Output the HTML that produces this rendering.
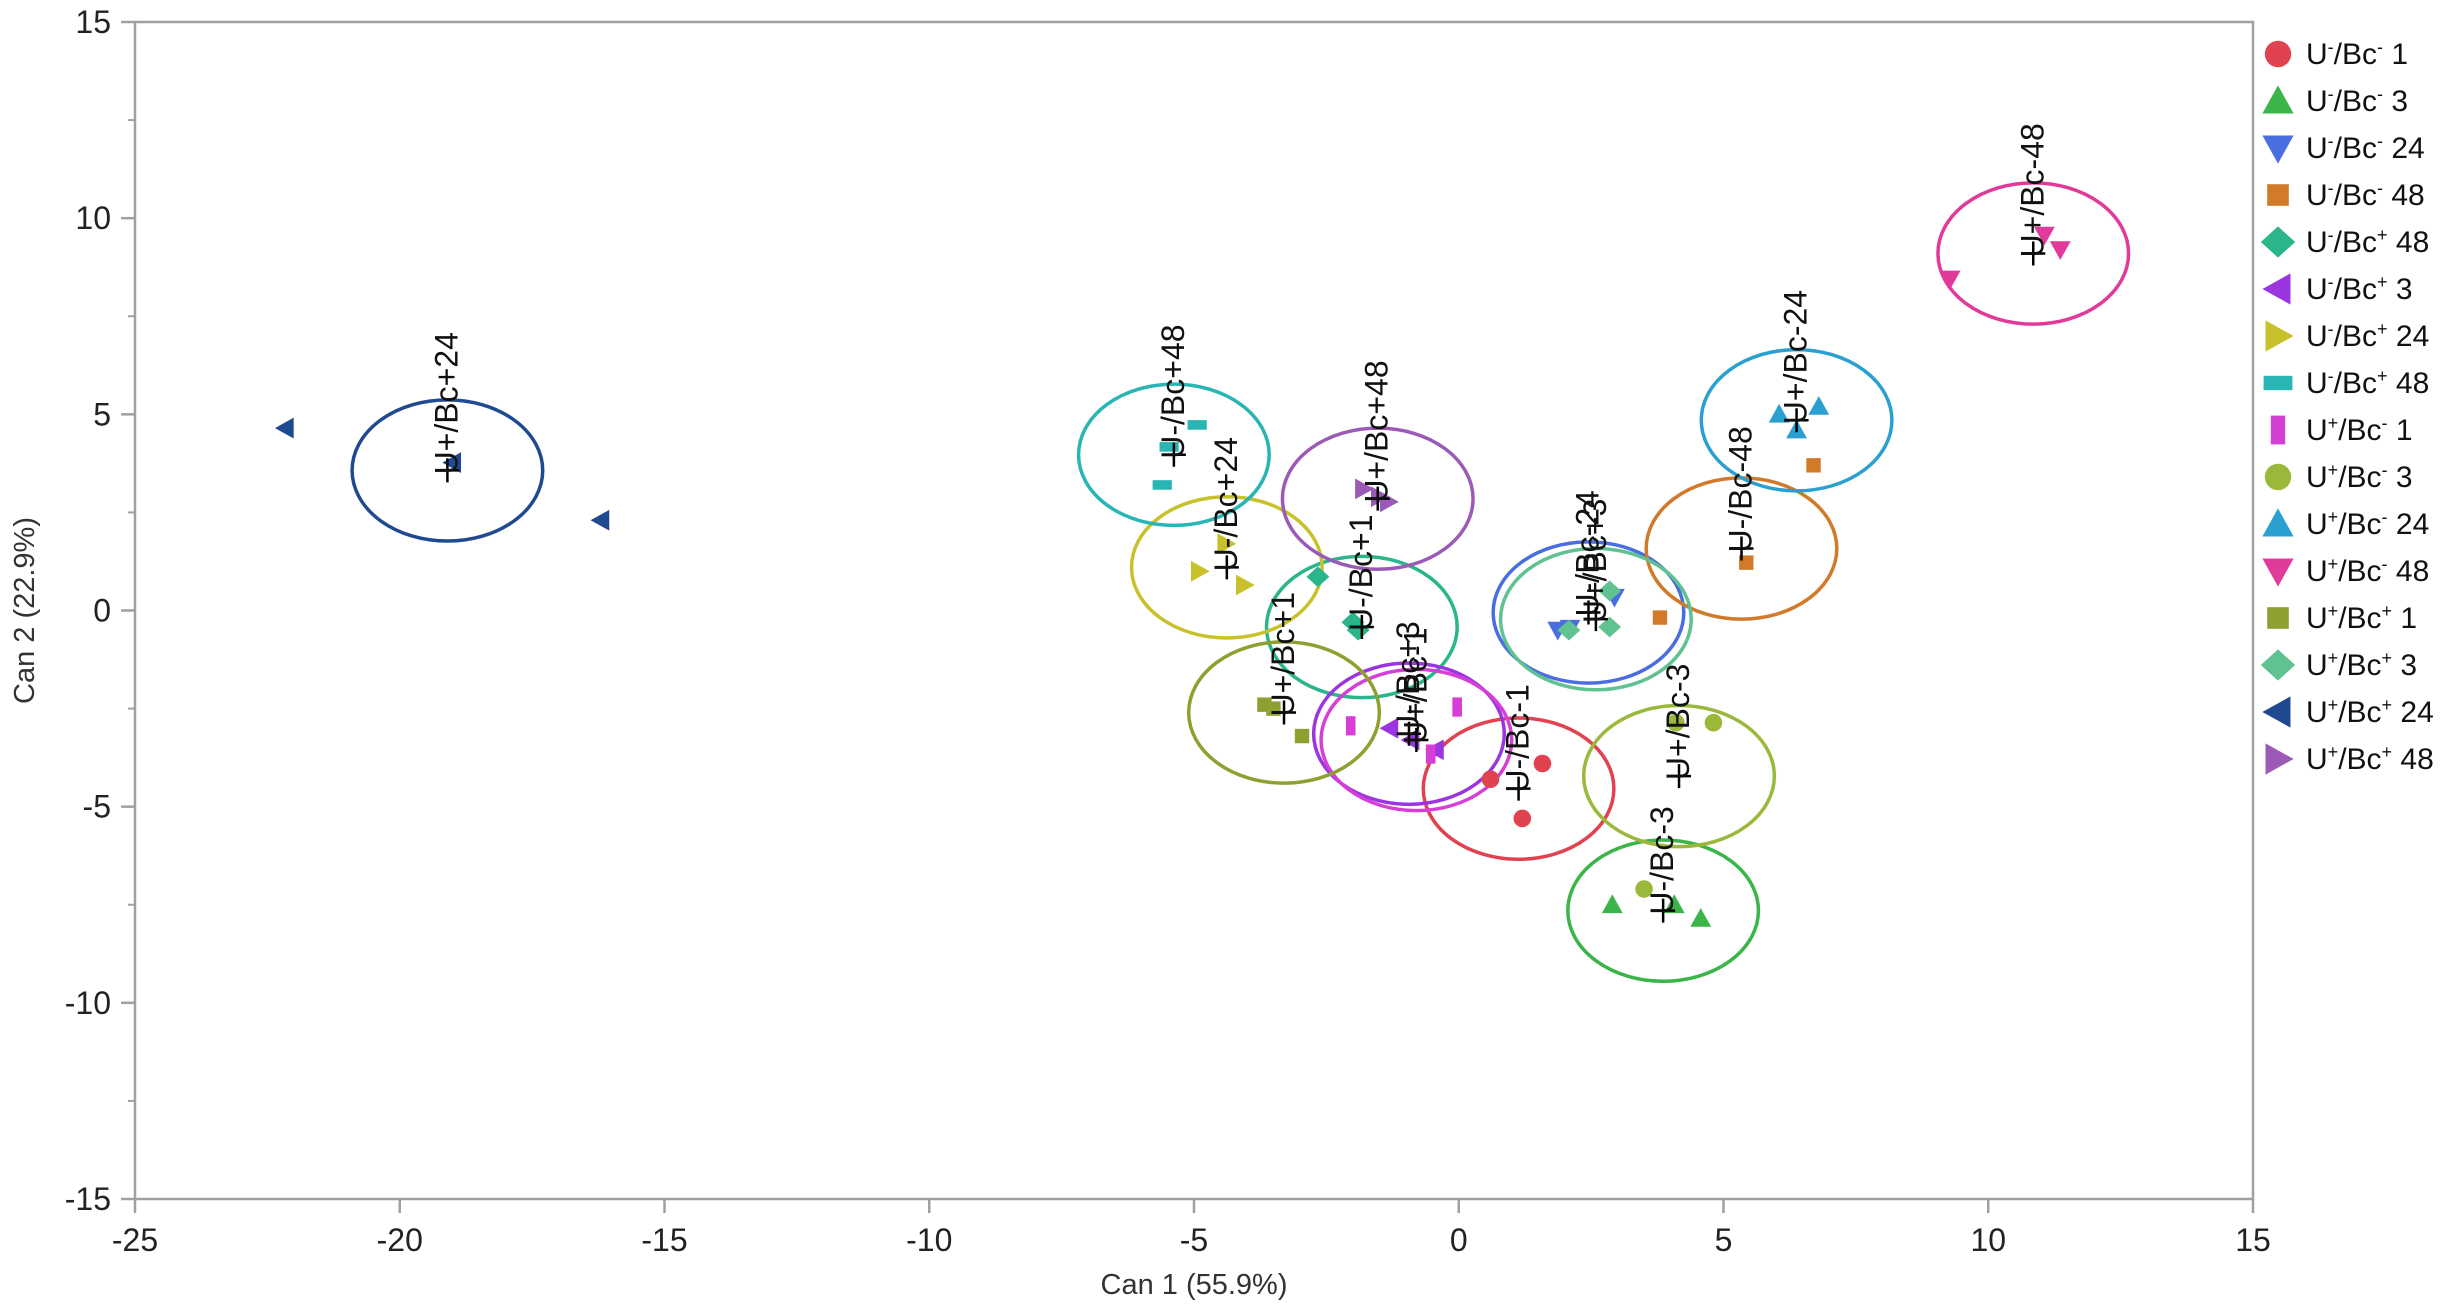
<!DOCTYPE html>
<html><head><meta charset="utf-8"><style>
html,body{margin:0;padding:0;background:#fff;}
svg{display:block;font-family:"Liberation Sans",sans-serif;}
</style></head><body>
<svg id="chart" width="2460" height="1308" viewBox="0 0 2460 1308">
<g id="axes"></g><g id="ellipses"></g><g id="points"></g><g id="labels"></g><g id="legend"></g>
</svg>
<script>
const xTicks=[-25,-20,-15,-10,-5,0,5,10,15];
const yTicks=[-15,-10,-5,0,5,10,15];
const groupNames=["U-/Bc-1","U-/Bc-3","U-/Bc-24","U-/Bc-48","U-/Bc+1","U-/Bc+3","U-/Bc+24","U-/Bc+48","U+/Bc-1","U+/Bc-3","U+/Bc-24","U+/Bc-48","U+/Bc+1","U+/Bc+3","U+/Bc+24","U+/Bc+48"];
const legendLabels=[["U","-","Bc","-"," 1"],["U","-","Bc","-"," 3"],["U","-","Bc","-"," 24"],["U","-","Bc","-"," 48"],["U","-","Bc","+"," 48"],["U","-","Bc","+"," 3"],["U","-","Bc","+"," 24"],["U","-","Bc","+"," 48"],["U","+","Bc","-"," 1"],["U","+","Bc","-"," 3"],["U","+","Bc","-"," 24"],["U","+","Bc","-"," 48"],["U","+","Bc","+"," 1"],["U","+","Bc","+"," 3"],["U","+","Bc","+"," 24"],["U","+","Bc","+"," 48"]];
const colors=["#e0434f","#3bb54a","#4a6ee0","#d07a2a","#2ab58a","#9b35e0","#c8c12c","#2ab5b5","#d63fd6","#9ab83a","#2aa0d0","#e03a9a","#8fa030","#5fc290","#1f4a8f","#9b5ab5"];
const markers=["circle","up","down","square","diamond","left","right","hbar","vbar","circle","up","down","square","diamond","left","right"];
const centroidX=[1.13,3.86,2.45,5.34,-1.83,-0.94,-4.38,-5.38,-0.8,4.16,6.38,10.85,-3.3,2.59,-19.1,-1.53];
const centroidY=[-4.54,-7.65,-0.05,1.58,-0.42,-3.14,1.1,3.97,-3.3,-4.22,4.85,9.1,-2.6,-0.22,3.57,2.85];
const radius=[1.8,1.8,1.8,1.8,1.8,1.8,1.8,1.8,1.8,1.8,1.8,1.8,1.8,1.8,1.8,1.8];
const pointsX=[[0.6,1.58,1.2],[2.9,4.07,4.57],[1.87,2.94,2.1],[5.43,6.7,3.8],[-2.0,-2.66,-1.9],[-0.44,-0.9,-1.3],[-4.9,-4.4,-4.05],[-4.94,-5.6,-5.47],[-2.04,-0.03,-0.53],[4.1,4.81,3.5],[6.05,6.8,6.38],[9.28,11.06,11.36],[-3.67,-2.96,-3.5],[2.08,2.85,2.85],[-22.16,-19.0,-16.2],[-1.33,-1.8,-1.5]];
const pointsY=[[-4.3,-3.9,-5.3],[-7.5,-7.5,-7.85],[-0.5,0.34,-0.45],[1.22,3.7,-0.18],[-0.3,0.86,-0.5],[-3.55,-3.3,-3.0],[1.0,1.7,0.65],[4.73,3.2,4.17],[-2.94,-2.46,-3.66],[-2.86,-2.86,-7.1],[5.0,5.2,4.6],[8.45,9.57,9.2],[-2.4,-3.2,-2.5],[-0.5,0.5,-0.42],[4.65,3.77,2.3],[2.77,3.1,2.9]];

const L=135,R=2253,T=22,B=1199;
const sx=v=>L+(v+25)/40*(R-L);
const sy=v=>B-(v+15)/30*(B-T);
const NS="http://www.w3.org/2000/svg";
function mk(tag,attrs,parent){const e=document.createElementNS(NS,tag);for(const k in attrs)e.setAttribute(k,attrs[k]);parent.appendChild(e);return e;}
const axes=document.getElementById('axes');
let fr=mk('path',{d:`M${L},${B} L${L},${T} L${R},${T} L${R},${B} L${L},${B}`,fill:'none',stroke:'#a0a0a0','stroke-width':2.5},axes);


xTicks.forEach(v=>{
  mk('line',{x1:sx(v),x2:sx(v),y1:B,y2:B+14,stroke:'#a0a0a0','stroke-width':2.5},axes);
  const t=mk('text',{x:sx(v),y:B+52,'text-anchor':'middle','font-size':32,fill:'#222'},axes);
  t.textContent=v;
  
  
});
yTicks.forEach(v=>{
  mk('line',{x1:L-14,x2:L,y1:sy(v),y2:sy(v),stroke:'#a0a0a0','stroke-width':2.5},axes);
  if(v<15) mk('line',{x1:L-7,x2:L,y1:sy(v+2.5),y2:sy(v+2.5),stroke:'#a0a0a0','stroke-width':2},axes);
  const t=mk('text',{x:L-24,y:sy(v)+11,'text-anchor':'end','font-size':32,fill:'#222'},axes);
  t.textContent=v;
  
  
});
let xt=mk('text',{x:(L+R)/2,y:1294,'text-anchor':'middle','font-size':29,fill:'#333'},axes);
xt.textContent='Can 1 (55.9%)';


let yt=mk('text',{x:0,y:0,'text-anchor':'middle','font-size':29,fill:'#333',transform:`translate(34,${(T+B)/2}) rotate(-90)`},axes);
yt.textContent='Can 2 (22.9%)';



function marker(type,cx,cy,s,color,parent){
  let e;
  if(type==='circle') e=mk('circle',{cx,cy,r:s*0.55,fill:color},parent);
  else if(type==='square') e=mk('rect',{x:cx-s*0.45,y:cy-s*0.45,width:s*0.9,height:s*0.9,fill:color},parent);
  else if(type==='hbar') e=mk('rect',{x:cx-s*0.6,y:cy-s*0.3,width:s*1.2,height:s*0.6,fill:color},parent);
  else if(type==='vbar') e=mk('rect',{x:cx-s*0.3,y:cy-s*0.6,width:s*0.6,height:s*1.2,fill:color},parent);
  else {
    let p;const h=s*0.65;
    if(type==='up') p=[[cx,cy-h],[cx+h,cy+h*0.8],[cx-h,cy+h*0.8]];
    if(type==='down') p=[[cx,cy+h],[cx+h,cy-h*0.8],[cx-h,cy-h*0.8]];
    if(type==='left') p=[[cx-h,cy],[cx+h*0.8,cy-h],[cx+h*0.8,cy+h]];
    if(type==='right') p=[[cx+h,cy],[cx-h*0.8,cy-h],[cx-h*0.8,cy+h]];
    if(type==='diamond') p=[[cx,cy-h],[cx+h*1.1,cy],[cx,cy+h],[cx-h*1.1,cy]];
    e=mk('polygon',{points:p.map(q=>q.join(',')).join(' '),fill:color},parent);
  }
  return e;
}
const eg=document.getElementById('ellipses'),pg=document.getElementById('points'),lg=document.getElementById('labels');
groupNames.forEach((g,i)=>{
  const el=mk('ellipse',{cx:sx(centroidX[i]),cy:sy(centroidY[i]),rx:sx(centroidX[i]+radius[i])-sx(centroidX[i]),ry:sy(centroidY[i])-sy(centroidY[i]+radius[i]),fill:'none',stroke:colors[i],'stroke-width':3.5},eg);
  
  
  pointsX[i].forEach((px,j)=>{
    const m=marker(markers[i],sx(px),sy(pointsY[i][j]),16,colors[i],pg);
    
    
  });
  const cx=sx(centroidX[i]),cy=sy(centroidY[i]);
  const c=mk('path',{d:`M${cx-12},${cy} L${cx+12},${cy} M${cx},${cy-12} L${cx},${cy+12}`,stroke:'#000','stroke-width':2.5},lg);
  
  
  const t=mk('text',{x:0,y:0,'font-size':32,fill:'#111',transform:`translate(${cx+10},${cy+4}) rotate(-90)`},lg);
  t.textContent=g;
  
  
});
const leg=document.getElementById('legend');
legendLabels.forEach((lb,i)=>{
  const y=54+i*47;
  const gEl=mk('g',{},leg);
  
  
  marker(markers[i],2278,y,24,colors[i],gEl);
  const t=mk('text',{x:2306,y:y+10,'font-size':30,fill:'#111'},gEl);
  const a=mk('tspan',{},t);a.textContent=lb[0];
  const b=mk('tspan',{'font-size':18,dy:-11},t);b.textContent=lb[1];
  const c=mk('tspan',{dy:11},t);c.textContent='/'+lb[2];
  const d=mk('tspan',{'font-size':18,dy:-11},t);d.textContent=lb[3];
  const e=mk('tspan',{dy:11},t);e.textContent=lb[4];
});
</script>
</body></html>
